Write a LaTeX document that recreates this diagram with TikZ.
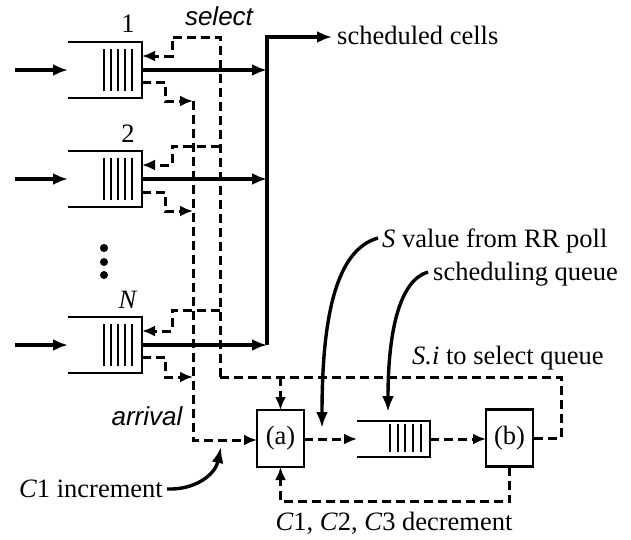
\documentclass[tikz,border=0pt]{standalone}
\usepackage{fontspec}
\setmainfont{Liberation Serif}
\setsansfont{Liberation Sans}
\usetikzlibrary{arrows.meta}
\begin{document}
\begin{tikzpicture}[x=1pt,y=-1pt,
  every node/.style={font=\fontsize{26.5}{30}\selectfont},
  lab/.style={inner sep=0pt,anchor=base west},
  sfit/.style={font=\fontsize{26}{30}\selectfont\sffamily\itshape},
  sline/.style={line width=3.4pt},
  sarrow/.style={line width=3.4pt,-{Latex[length=15pt,width=12pt]}},
  dline/.style={line width=3pt,dash pattern=on 9pt off 5pt},
  darrow/.style={dline,-{Latex[length=13pt,width=11pt]}},
  carrow/.style={line width=3.4pt,-{Latex[length=16pt,width=12pt]}},
  qbox/.style={minimum width=74pt,minimum height=56pt,inner sep=0pt,outer sep=0pt},
  qline/.style={line width=2.4pt},
  qbar/.style={line width=2.8pt},
  boxnode/.style={draw,line width=2.4pt,minimum width=47pt,minimum height=57pt,inner sep=0pt,outer sep=0pt},
  dotnode/.style={circle,fill,inner sep=0pt,minimum size=8pt}
]
\useasboundingbox (0,0) rectangle (631,539);

% input queues
\node[qbox] (q1) at (105,70) {};
\node[qbox] (q2) at (105,179) {};
\node[qbox] (qN) at (105,345) {};
\node[qbox,minimum width=73pt,minimum height=36pt] (sq) at (393.5,439) {};

\foreach \q in {q1,q2,qN,sq}
  \draw[qline] (\q.north west) -- (\q.north east) -- (\q.south east) -- (\q.south west);
\foreach \q in {q1,q2,qN}
  \foreach \d in {38,31,24,17,10}
    \draw[qbar] ([xshift=-\d pt,yshift=-7pt]\q.north east) -- ([xshift=-\d pt,yshift=7pt]\q.south east);
\foreach \d in {40,32,25,17,9}
  \draw[qbar] ([xshift=-\d pt,yshift=-3pt]sq.north east) -- ([xshift=-\d pt,yshift=5pt]sq.south east);

% labels of queues
\node[lab,anchor=base] at (128,32) {1};
\node[lab,anchor=base] at (128,142) {2};
\node[lab,anchor=base] at (128,308) {\textit{N}};
\node[dotnode] (d1) at (104,248) {};
\node[dotnode] (d2) at (104,262) {};
\node[dotnode] (d3) at (104,275) {};

% inputs
\coordinate (in1) at (15,70);
\coordinate (in2) at (15,179);
\coordinate (inN) at (15,345);
\draw[sarrow] (in1) -- (q1.west);
\draw[sarrow] (in2) -- (q2.west);
\draw[sarrow] (inN) -- (qN.west);

% scheduled output
\node[lab,anchor=base west] (sc) at (337,44) {scheduled cells};
\coordinate (col) at (267,37);
\coordinate (colN) at (267,345);
\draw[sarrow] (q1.east) -- (q1.east -| col);
\draw[sarrow] (q2.east) -- (q2.east -| col);
\draw[sarrow] (qN.east) -- (qN.east -| col);
\draw[sline,-{Latex[length=15pt,width=12pt]}] (colN) -- (col) -- (332,37);

% boxes (a), (b)
\node[boxnode] (a) at (280.5,438.5) {(a)};
\node[boxnode] (b) at (509.5,438) {(b)};

% select lines
\coordinate (selTop) at (220,37);
\coordinate (sel2) at (220,146);
\coordinate (selNj) at (220,310);
\coordinate (selBot) at (220,377);
\coordinate (selR) at (561,377);
\draw[darrow] (selBot) -- (selTop) -- (172,37) -- (172,56) -- ([yshift=14pt]q1.east);
\draw[darrow] (sel2) -- (172,146) -- (172,165) -- ([yshift=14pt]q2.east);
\draw[darrow] (selNj) -- (172,310) -- (172,331) -- ([yshift=14pt]qN.east);
\draw[dline] (selBot) -- (selR) -- (selR |- b.east) -- (b.east);
\draw[darrow] (a.north |- selBot) -- (a.north);

% arrival lines
\coordinate (arrTop) at (193,101);
\coordinate (arr2) at (193,211);
\coordinate (arrN) at (193,377);
\coordinate (arrBot) at (193,440);
\draw[darrow] ([yshift=-12pt]q1.east) -- (165,82) -- (165,101) -- (arrTop);
\draw[darrow] ([yshift=-13pt]q2.east) -- (165,192) -- (165,211) -- (arr2);
\draw[darrow] ([yshift=-12pt]qN.east) -- (165,357) -- (165,377) -- (arrN);
\draw[darrow] (arrTop) -- (arrBot) -- (arrBot -| a.west);

% scheduling path
\draw[darrow] (a.east |- sq.west) -- (sq.west);
\draw[darrow] (sq.east) -- (sq.east -| b.west);
\draw[darrow] (b.south) -- ++(0,35) -| (a.south);

% text labels
\node[sfit,inner sep=0pt,anchor=base] (selt) at (219,25) {select};
\node[sfit,inner sep=0pt,anchor=base] (arrt) at (147,425) {arrival};
\node[lab] (sv) at (382,247) {\textit{S} value from RR poll};
\node[lab] (sql) at (433,280) {scheduling queue};
\node[lab] (si) at (412,364) {\textit{S.i} to select queue};
\node[lab,anchor=base] (dec) at (394,530) {\textit{C}1, \textit{C}2, \textit{C}3 decrement};
\node[lab,anchor=base east] (inc) at (163,497) {\textit{C}1 increment};

% curved pointers
\coordinate (svs) at (378,238);
\coordinate (svtip) at (322,428);
\coordinate (sqs) at (428,272);
\coordinate (sqtip) at (388,412);
\coordinate (incs) at (167,489);
\coordinate (inctip) at (221,447);
\draw[carrow] (svs) .. controls (335,250) and (322,320) .. (svtip);
\draw[carrow] (sqs) .. controls (400,280) and (388,330) .. (sqtip);
\draw[carrow] (incs) .. controls (195,490) and (215,475) .. (inctip);
\end{tikzpicture}
\end{document}
